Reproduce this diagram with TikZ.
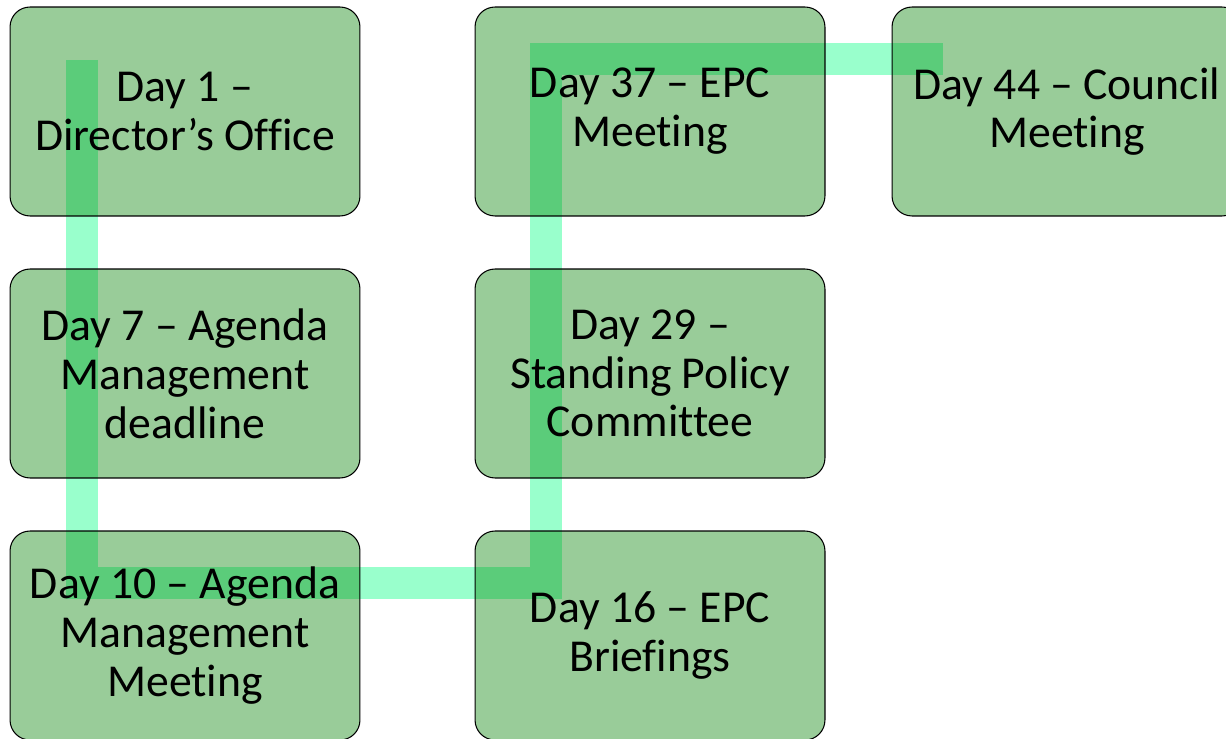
\documentclass[tikz,border=0pt]{standalone}
\usepackage{fontspec}
\setmainfont{Carlito}[Ligatures={NoCommon}]
\usepackage{tikz}
\definecolor{mint}{HTML}{99FFCC}
\definecolor{boxgreen}{RGB}{0,128,0}
\tikzset{
  daybox/.style={draw=black, line width=0.6pt, rounded corners=0.4cm,
    fill=boxgreen, fill opacity=0.4, text opacity=1,
    minimum width=7cm, minimum height=4.18cm, align=center,
    font=\fontsize{26}{27.8}\selectfont},
  track/.style={draw=mint, line width=0.64cm, line cap=butt, line join=miter}
}

\begin{document}
\begin{tikzpicture}[x=0.02cm, y=-0.02cm]
		%%%%% START %%%%%
		\useasboundingbox (0, 0) rectangle (1226, 739);
		\clip (0, 0) rectangle (1226, 739);
		
		% route behind the boxes
		\coordinate (start) at (82, 60);
		\coordinate (turn) at (546, 583);
		\coordinate (finish) at (943, 59);
		\draw[track] (start) |- (turn) |- (finish);
		
		% first column
		\node[daybox] (d1) at (185, 111.5) {Day 1 –\\Director’s Office};
		\node[daybox] (d7) at (185, 373.5) {Day 7 – Agenda\\Management\\deadline};
		\node[daybox] (d10) at (185, 635.5) {Day 10 – Agenda\\Management\\Meeting};
		
		% second column
		\node[daybox] (d16) at (650, 635.5) {Day 16 – EPC\\Briefings};
		\node[daybox] (d29) at (650, 373.5) {Day 29 –\\Standing Policy\\Committee};
		\node[daybox] (d37) at (650, 111.5) {Day 37 – EPC\\Meeting};
		
		% third column
		\node[daybox] (d44) at (1067, 111.5) {Day 44 – Council\\Meeting};
		%%%%% END %%%%%
\end{tikzpicture}
\end{document}
